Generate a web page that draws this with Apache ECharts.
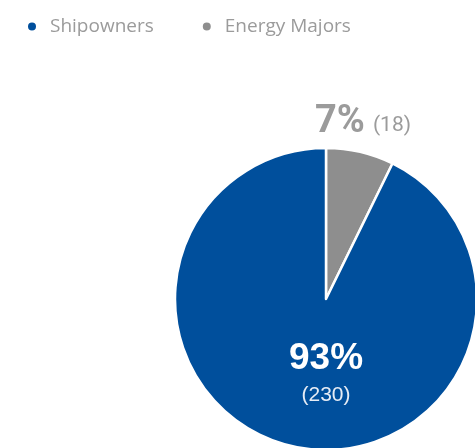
<!DOCTYPE html>
<html>
<head>
<meta charset="utf-8">
<script src="https://cdn.jsdelivr.net/npm/echarts@6/dist/echarts.min.js"></script>
<style>
  html, body { margin: 0; padding: 0; background: #fff; }
  #chart { width: 475px; height: 448px; }
</style>
</head>
<body>
<div id="chart"></div>
<script>
// Fleet ownership split
const categories = ['Shipowners', 'Energy Majors'];
const counts = [230, 18];
const colors = ['#004f9c', '#8e8e8e'];

const total = counts.reduce((a, b) => a + b, 0);
const pct = v => Math.round(v / total * 100) + '%';

const chart = echarts.init(document.getElementById('chart'));

// Energy Majors drawn first so its slice starts at 12 o'clock and runs clockwise
const order = [1, 0];
const seriesData = order.map(i => ({
  name: categories[i],
  value: counts[i],
  itemStyle: { color: colors[i] },
  label: i === 0
    ? {
        position: 'center',
        offset: [0, 74],
        formatter: p => '{a|' + pct(p.value) + '}\n{b|(' + p.value + ')}',
        rich: {
          a: { fontFamily: 'Liberation Sans', fontWeight: 'bold', fontSize: 37, color: '#fff', lineHeight: 44 },
          b: { fontFamily: 'Liberation Sans', fontSize: 21, color: '#e6ecf5', lineHeight: 28 }
        }
      }
    : {
        position: 'center',
        offset: [37, -177],
        formatter: p => '{a|' + pct(p.value) + '}{b|(' + p.value + ')}',
        rich: {
          a: { fontFamily: 'Roboto', fontWeight: 'bold', fontSize: 38, color: '#9b9b9b' },
          b: { fontFamily: 'Roboto', fontSize: 21, color: '#9b9b9b', padding: [8, 0, 0, 8] }
        }
      }
}));

chart.setOption({
  animation: false,
  legend: {
    data: categories,
    left: 21,
    top: 12,
    icon: 'circle',
    itemWidth: 10,
    itemHeight: 10,
    itemGap: 47,
    textStyle: { fontFamily: 'Open Sans', fontSize: 19, color: '#9b9b9b', padding: [0, 0, 0, 8] }
  },
  series: [{
    type: 'pie',
    center: [326, 299],
    radius: 151,
    startAngle: 90,
    clockwise: true,
    avoidLabelOverlap: false,
    labelLine: { show: false },
    itemStyle: { borderColor: '#fff', borderWidth: 2.5 },
    emphasis: { disabled: true },
    data: seriesData
  }]
});
</script>
</body>
</html>
